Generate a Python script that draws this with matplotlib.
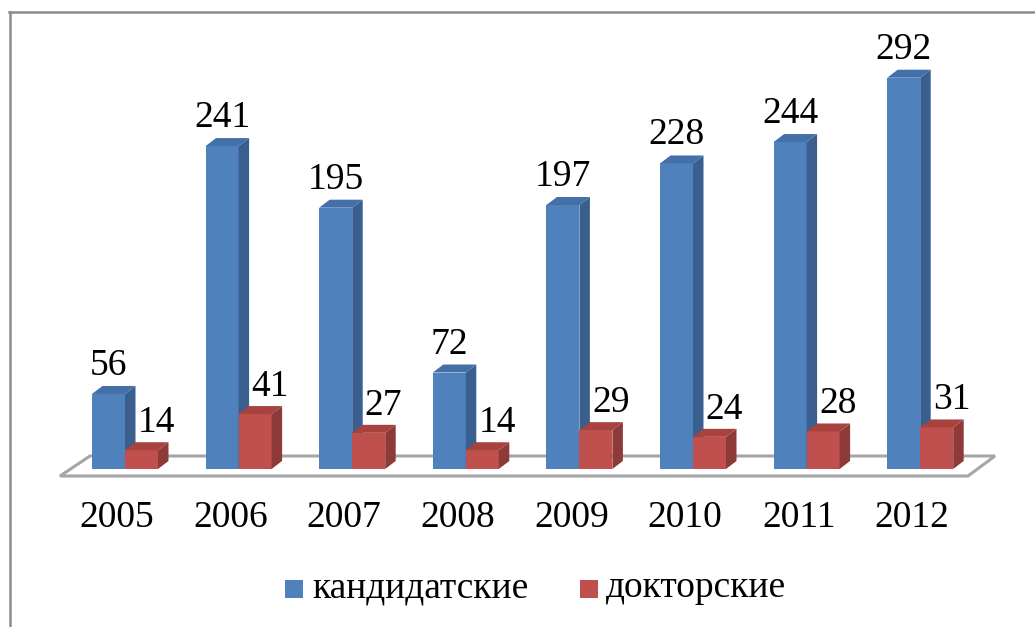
import matplotlib
matplotlib.use("Agg")
import matplotlib.pyplot as plt
from matplotlib.patches import Polygon, Rectangle
from matplotlib.lines import Line2D

years = ['2005', '2006', '2007', '2008', '2009', '2010', '2011', '2012']
cand = [56, 241, 195, 72, 197, 228, 244, 292]
doct = [14, 41, 27, 14, 29, 24, 28, 31]
series_names = ['кандидатские', 'докторские']

W, H = 1035, 627
PXX, PXY = 113.6, 1.34          # pixels per data unit
X0, Y0 = 125, 469                # pixel of (0, 0)
BW = 33 / PXX                    # bar width in units
DX, DY = 10.5 / PXX, 8 / PXY     # depth offset in units
FS = 27

blue = ('#4F81BD', '#3A5F8E', '#4370A8')
red = ('#C0504D', '#8E3A38', '#A8423F')

plt.rcParams['font.family'] = ['Liberation Serif', 'DejaVu Serif']
fig = plt.figure(figsize=(W / 100, H / 100), dpi=100)
ax = fig.add_axes([0, 0, 1, 1])
ax.set_xlim(-X0 / PXX, (W - X0) / PXX)
ax.set_ylim((Y0 - H) / PXY, Y0 / PXY)
ax.axis('off')

# floor
fy0, fy1 = (Y0 - 476) / PXY, (Y0 - 456) / PXY
floor = Polygon([((60 - X0) / PXX, fy0), ((968 - X0) / PXX, fy0),
                 ((995 - X0) / PXX, fy1), ((90 - X0) / PXX, fy1)],
                closed=True, facecolor='white', edgecolor='#A6A6A6', lw=2.2, zorder=1)
ax.add_patch(floor)


def bar3d(x0, v, cols, z):
    front, side, top = cols
    x1 = x0 + BW
    ax.add_patch(Polygon([(x0, 0), (x1, 0), (x1, v), (x0, v)], closed=True,
                         facecolor=front, edgecolor='none', zorder=z))
    ax.add_patch(Polygon([(x1, 0), (x1 + DX, DY), (x1 + DX, v + DY), (x1, v)], closed=True,
                         facecolor=side, edgecolor='none', zorder=z))
    ax.add_patch(Polygon([(x0, v), (x1, v), (x1 + DX, v + DY), (x0 + DX, v + DY)], closed=True,
                         facecolor=top, edgecolor='none', zorder=z))


for i, (c, d) in enumerate(zip(cand, doct)):
    bar3d(i - BW, c, blue, 2 + 2 * i)
    bar3d(i, d, red, 3 + 2 * i)
    ax.text(i - BW / 2, c + 19 / PXY, str(c), ha='center', va='baseline',
            fontsize=FS, zorder=20)
    ax.text(i + BW / 2 + 0.13, d + 18 / PXY, str(d), ha='center', va='baseline',
            fontsize=FS, zorder=20)
    ax.text(i - 0.07, (Y0 - 518) / PXY, years[i], ha='center', va='center',
            fontsize=FS, zorder=20)

# legend
def fx(px):
    return px / W


def fyy(py):
    return 1 - py / H


fig.patches.append(Rectangle((fx(285), fyy(598)), 18 / W, 18 / H, transform=fig.transFigure,
                             facecolor=blue[0], edgecolor='none'))
fig.text(fx(312), fyy(588), series_names[0], ha='left', va='center', fontsize=FS)
fig.patches.append(Rectangle((fx(580), fyy(598)), 18 / W, 18 / H, transform=fig.transFigure,
                             facecolor=red[0], edgecolor='none'))
fig.text(fx(606), fyy(588), series_names[1], ha='left', va='center', fontsize=FS)

# chart border (left and top)
fig.add_artist(Line2D([fx(10), fx(10)], [0, fyy(12)], transform=fig.transFigure,
                      color='#8C8C8C', lw=1.8))
fig.add_artist(Line2D([fx(9.4), 1], [fyy(12), fyy(12)], transform=fig.transFigure,
                      color='#8C8C8C', lw=1.8))

fig.savefig('out.png', dpi=100, facecolor='white')
